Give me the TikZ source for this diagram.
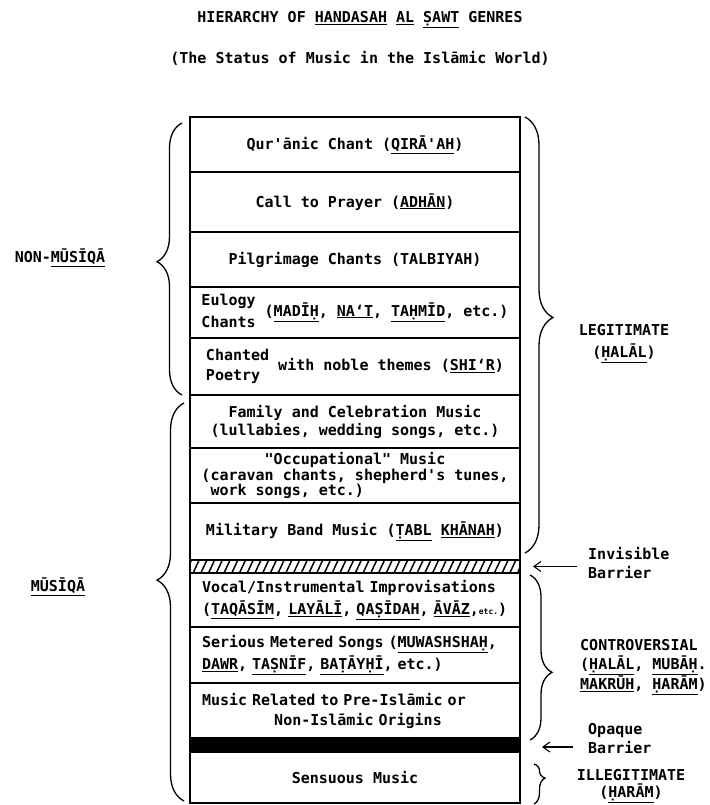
\documentclass[tikz,border=0pt]{standalone}
\usepackage{fontspec}
\setmonofont{DejaVu Sans Mono}
\usepackage{tikz}
\usetikzlibrary{
    positioning,               % For stacking the rows (below=of)
    arrows.meta,               % For the barrier pointers
    calc,                      % For coordinate calculations
    decorations.pathreplacing, % For the curly braces
    patterns.meta              % For the hatched barrier
}

\begin{document}
\begin{tikzpicture}[x=1pt, y=-1pt]

    % --- Style Definitions ---
    \tikzset{
        % One row of the hierarchy column
        genre/.style={
            rectangle,
            draw=black,
            line width=1.3pt,
            minimum width=330pt,
            outer sep=0pt,
            inner sep=0pt,
            font=\ttfamily\bfseries\fontsize{15}{19}\selectfont,
            text=black
        },
        % Thin barrier band between two rows
        band/.style={
            rectangle,
            draw=black,
            line width=1.3pt,
            minimum width=330pt,
            outer sep=0pt,
            inner sep=0pt
        },
        % Text outside of the column
        note/.style={
            font=\ttfamily\bfseries\fontsize{15}{19}\selectfont,
            text=black,
            inner sep=0pt
        },
        % Curly braces grouping the rows
        curly/.style={
            decorate,
            decoration={brace, amplitude=#1},
            line width=1.3pt
        },
        curly/.default=24pt,
        % Pointers to the barriers
        arrow/.style={
            -{Straight Barb[length=7pt, width=10pt]},
            line width=1.1pt,
            black
        }
    }

    \useasboundingbox (0,0) rectangle (709,805);

    % --- Titles ---
    \node[note] (title) at (360,20)
        {HIERARCHY OF \underline{HANDASAH} \underline{AL} \underline{ṢAWT} GENRES};
    \node[note] (subtitle) at (360,58)
        {(The Status of Music in the Islāmic World)};

    % --- The column of genres ---
    \node[genre, minimum height=55pt] (qiraah) at (355,144.5)
        {Qur'ānic Chant (\underline{QIRĀ'AH})};
    \node[genre, minimum height=60pt, below=0pt of qiraah] (adhan)
        {Call to Prayer (\underline{ADHĀN})};
    \node[genre, minimum height=55pt, below=0pt of adhan] (talbiyah)
        {Pilgrimage Chants (TALBIYAH)};
    \node[genre, minimum height=51pt, below=0pt of talbiyah,
          font=\ttfamily\bfseries\fontsize{15}{22}\selectfont] (eulogy)
        {\begin{tabular}{@{}l@{}}Eulogy\\Chants\end{tabular}
         (\underline{MADĪḤ}, \underline{NA‘T}, \underline{TAḤMĪD}, etc.)};
    \node[genre, minimum height=57pt, below=0pt of eulogy,
          font=\ttfamily\bfseries\fontsize{15}{20}\selectfont] (poetry)
        {\begin{tabular}{@{}l@{}}Chanted\\Poetry\end{tabular}
         with noble themes (\underline{SHI‘R})};
    \node[genre, minimum height=53pt, below=0pt of poetry, align=center,
          font=\ttfamily\bfseries\fontsize{15}{18}\selectfont] (family)
        {Family and Celebration Music\\(lullabies, wedding songs, etc.)};
    \node[genre, minimum height=55pt, below=0pt of family, align=center,
          font=\ttfamily\bfseries\fontsize{15}{15.5}\selectfont] (occupation)
        {"Occupational" Music\\(caravan chants, shepherd's tunes,\\
         \phantom{x}work songs, etc.)\phantom{xxxxxxxxxxxxxxxx}};
    \node[genre, minimum height=57pt, below=0pt of occupation] (military)
        {Military Band Music (\underline{ṬABL} \underline{KHĀNAH})};
    \node[band, minimum height=13pt, below=0pt of military,
          pattern={Lines[angle=65, distance=7pt, line width=1.5pt]}] (invisband) {};
    \node[genre, minimum height=54pt, below=0pt of invisband,
          text width=306pt, align=left,
          font=\ttfamily\bfseries\fontsize{15}{22}\selectfont] (improv)
        {Vocal/Instrumental Improvisations\\(\underline{TAQĀSĪM}, \underline{LAYĀLĪ},
         \underline{QAṢĪDAH}, \underline{ĀVĀZ},{\fontsize{8}{8}\selectfont etc.})};
    \node[genre, minimum height=56pt, below=0pt of improv,
          text width=306pt, align=left,
          font=\ttfamily\bfseries\fontsize{15}{22}\selectfont] (metered)
        {Serious Metered Songs (\underline{MUWASHSHAḤ},\\\underline{DAWR},
         \underline{TAṢNĪF}, \underline{BAṬĀYḤĪ}, etc.)};
    \node[genre, minimum height=55pt, below=0pt of metered,
          text width=306pt, align=left,
          font=\ttfamily\bfseries\fontsize{15}{20}\selectfont] (origins)
        {Music Related to Pre-Islāmic or\\\phantom{xxxxxxxx}Non-Islāmic Origins};
    \node[band, minimum height=14pt, below=0pt of origins, fill=black] (opaqueband) {};
    \node[genre, minimum height=51pt, below=0pt of opaqueband] (sensuous)
        {Sensuous Music};

    % --- Left braces and labels ---
    \draw[curly=25pt, decoration={aspect=0.49}]
        ($(poetry.south west)+(-8,0)$) -- ($(qiraah.north west)+(-8,6)$);
    \node[note] (nonmusiqa) at (60,258) {NON-\underline{MŪSĪQĀ}};

    \draw[curly=27pt, decoration={aspect=0.555}]
        ($(sensuous.south west)+(-6,-2)$) -- ($(family.north west)+(-6,8)$);
    \node[note] (musiqa) at (58,587) {\underline{MŪSĪQĀ}};

    % --- Right braces and labels ---
    \draw[curly=28pt, decoration={aspect=0.46}]
        ($(qiraah.north east)+(5,0)$) -- ($(military.south east)+(5,-7)$);
    \node[note, align=center, font=\ttfamily\bfseries\fontsize{15}{22}\selectfont] (legit)
        at (624,344) {LEGITIMATE\\(\underline{ḤALĀL})};

    \draw[curly=22pt, decoration={aspect=0.59}]
        ($(improv.north east)+(10,2)$) -- ($(origins.south east)+(10,2)$);
    \node[note, align=left, font=\ttfamily\bfseries\fontsize{15}{19.5}\selectfont] (controv)
        at (580,667) [anchor=west]
        {CONTROVERSIAL\\(\underline{ḤALĀL}, \underline{MUBĀḤ}.\\\underline{MAKRŪH}, \underline{ḤARĀM})};

    \draw[curly=11pt, decoration={aspect=0.35}]
        ($(sensuous.north east)+(14,12)$) -- ($(sensuous.south east)+(14,1)$);
    \node[note, align=center, font=\ttfamily\bfseries\fontsize{15}{17}\selectfont] (illegit)
        at (631,786) {ILLEGITIMATE\\(\underline{ḤARĀM})};

    % --- Barrier pointers ---
    \node[note, align=left, anchor=west] (invis) at (588,563) {Invisible\\Barrier};
    \coordinate (invistip) at ($(invisband.east)+(13,0)$);
    \draw[arrow] ([xshift=-11pt]invis.west |- invistip) -- (invistip);

    \node[note, align=left, anchor=west] (opaque) at (588,739) {Opaque\\Barrier};
    \coordinate (opaquetip) at ($(opaqueband.east)+(22,2)$);
    \draw[arrow] ([xshift=-15pt]opaque.west |- opaquetip) -- (opaquetip);

\end{tikzpicture}
\end{document}
